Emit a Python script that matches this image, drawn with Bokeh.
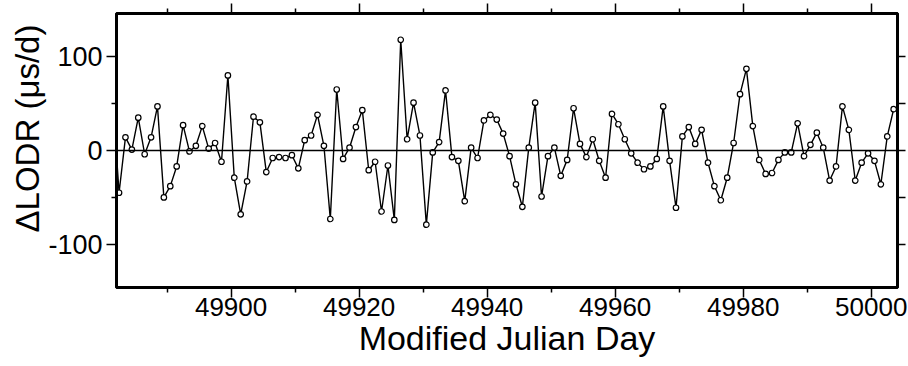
from bokeh.plotting import figure
from bokeh.models import FixedTicker, LinearAxis, Span, Title, Range1d
from bokeh.embed import file_html
from bokeh.resources import INLINE

# Daily ΔLODR values (µs/d), first sample at MJD 49881.5
mjd_start = 49881.5
dlodr = [
    55,
    -45, 14, 1, 35, -4, 14, 47, -50, -38, -17, 27, -1, 5, 26, 2, 8, -12, 80, -29, -68,
    -33, 36, 30, -23, -8, -7, -8, -5, -19, 11,
    16, 38, 5, -73, 65, -9, 3, 25, 43, -21, -12, -65, -16, -74, 118, 12, 51, 16, -79, -2,
    9, 64, -7, -11, -54, 3, -8, 32, 38, 33,
    18, -6, -36, -60, 3, 51, -49, -6, 3, -27, -10, 45, 7, -7, 12, -11, -29, 39, 28, 12,
    -3, -13, -20, -17, -9, 47, -11, -61, 15, 25, 7,
    22, -13, -38, -53, -29, 8, 60, 87, 26, -10, -25, -24, -10, -2, -2, 29, -6, 6, 19, 3,
    -32, -17, 47, 22, -32, -13, -3, -11, -36, 15, 44,
]
mjd = [mjd_start + i for i in range(len(dlodr))]

x_major = [49900, 49920, 49940, 49960, 49980, 50000]
x_minor = [49890, 49910, 49930, 49950, 49970, 49990]
y_major = [-100, 0, 100]
y_minor = [-50, 50]
y_labels = {-100: "-100", 0: "0", 100: "100"}

FONT = "Liberation Sans"

p = figure(width=908, height=366, output_backend="svg", toolbar_location=None,
           x_range=Range1d(49882.1, 50004.1), y_range=Range1d(-146, 146),
           min_border_left=116, min_border_right=11, min_border_top=13,
           min_border_bottom=79)
p.xgrid.visible = False
p.ygrid.visible = False
p.outline_line_color = "black"
p.outline_line_width = 3
p.background_fill_color = "white"
p.border_fill_color = "white"

xb = p.xaxis[0]
xb.ticker = FixedTicker(ticks=x_major, minor_ticks=x_minor)
xb.axis_label = "Modified Julian Day"
xb.axis_label_text_font = FONT
xb.axis_label_text_font_size = "34px"
xb.axis_label_text_font_style = "normal"
xb.axis_label_text_color = "black"
xb.axis_label_standoff = 0
xb.major_label_text_font = FONT
xb.major_label_text_font_size = "26px"
xb.major_label_text_color = "black"
xb.major_label_standoff = 0

yl = p.yaxis[0]
yl.ticker = FixedTicker(ticks=y_major, minor_ticks=y_minor)
yl.major_label_overrides = y_labels
yl.major_label_text_font = FONT
yl.major_label_text_font_size = "27px"
yl.major_label_text_color = "black"
yl.major_label_standoff = 4

for ax in (xb, yl):
    ax.axis_line_width = 3
    ax.axis_line_color = "black"
    ax.major_tick_in = 0
    ax.major_tick_out = 10
    ax.minor_tick_in = 0
    ax.minor_tick_out = 5
    ax.major_tick_line_width = 1.5
    ax.minor_tick_line_width = 1.5
    ax.major_tick_line_color = "black"
    ax.minor_tick_line_color = "black"

blank_x = {t: "" for t in x_major}
blank_y = {t: "" for t in y_major}

top = LinearAxis(ticker=FixedTicker(ticks=x_major, minor_ticks=x_minor),
                 major_label_overrides=blank_x, major_label_standoff=0,
                 major_label_text_font_size="1px",
                 axis_line_width=3, major_tick_in=0, major_tick_out=10,
                 minor_tick_in=0, minor_tick_out=5,
                 major_tick_line_width=1.5, minor_tick_line_width=1.5)
p.add_layout(top, "above")

right = LinearAxis(ticker=FixedTicker(ticks=y_major, minor_ticks=y_minor),
                   major_label_overrides=blank_y, major_label_standoff=0,
                   major_label_text_font_size="1px",
                   axis_line_width=3, major_tick_in=0, major_tick_out=8,
                   minor_tick_in=0, minor_tick_out=8,
                   major_tick_line_width=1.5, minor_tick_line_width=1.5)
p.add_layout(right, "right")

ylab = Title(text="ΔLODR (μs/d)", align="left", offset=55,
             text_font=FONT, text_font_size="33px", text_font_style="normal",
             text_color="black", standoff=0)
p.add_layout(ylab, "left")

p.add_layout(Span(location=0, dimension="width", line_color="black", line_width=1.5))

p.line(mjd, dlodr, line_color="black", line_width=1.4)
p.scatter(mjd, dlodr, marker="circle", size=5.5, fill_color="white",
          line_color="black", line_width=1.2)

open("out.html", "w").write(file_html(p, INLINE))
